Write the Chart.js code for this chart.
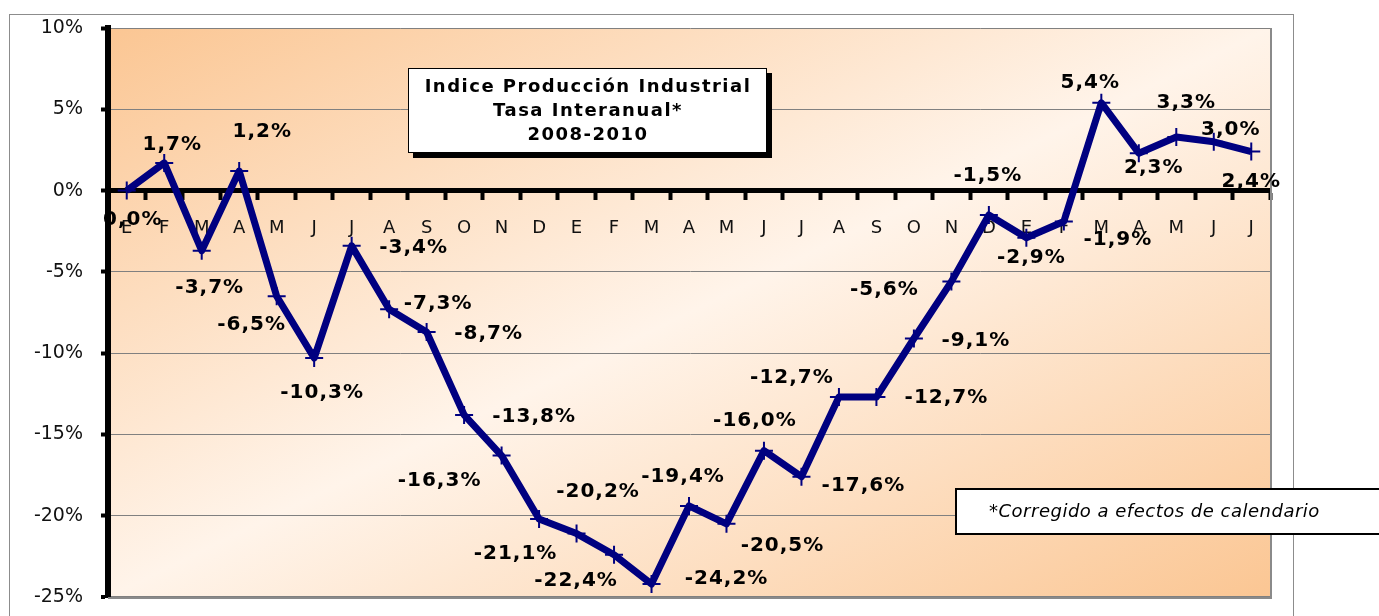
<!DOCTYPE html>
<html lang="es">
<head>
<meta charset="utf-8">
<title>Indice Producción Industrial - Tasa Interanual</title>
<script src="https://cdn.jsdelivr.net/npm/chart.js@4.4.1/dist/chart.umd.min.js"></script>
<style>
    html, body { margin: 0; padding: 0; background: #fff; }
    #contenedor { width: 1379px; height: 616px; }
</style>
</head>
<body>
<div id="contenedor"><canvas id="chart_ipi" width="1379" height="616"></canvas></div>
<script>
// Meses de enero 2008 a julio 2010
var meses = ['E', 'F', 'M', 'A', 'M', 'J', 'J', 'A', 'S', 'O', 'N', 'D',
             'E', 'F', 'M', 'A', 'M', 'J', 'J', 'A', 'S', 'O', 'N', 'D',
             'E', 'F', 'M', 'A', 'M', 'J', 'J'];

// Tasa interanual (%)
var tasas = [0.0, 1.7, -3.7, 1.2, -6.5, -10.3, -3.4, -7.3, -8.7, -13.8, -16.3, -20.2,
             -21.1, -22.4, -24.2, -19.4, -20.5, -16.0, -17.6, -12.7, -12.7, -9.1, -5.6, -1.5,
             -2.9, -1.9, 5.4, 2.3, 3.3, 3.0, 2.4];

// Eje vertical
var ejeMin = -25;
var ejeMax = 10;
var ejePaso = 5;

var titulo = ['Indice Producción Industrial', 'Tasa Interanual*', '2008-2010'];
var nota = '*Corregido a efectos de calendario';

// Desplazamiento de cada etiqueta respecto a su punto (px), colocadas a mano como en el original
var desplEtiquetas = [
    [6, 29], [8, -18], [8, 37], [23, -39], [-25, 29], [8, 35], [62, 2], [49, -5],
    [62, 2], [70, 2], [-62, 25], [59, -27], [-61, 20], [-38, 26], [75, -5], [-6, -29],
    [56, 22], [-9, -30], [62, 9], [-47, -19], [70, 1], [62, 2], [-67, 8], [-1, -39],
    [5, 20], [54, 18], [-11, -20], [15, 15], [10, -34], [17, -12], [0, 30]
];

function formato(v) {
    return v.toFixed(1).replace('.', ',') + '%';
}

// Fondo: marco exterior y degradado del area de trazado
var fondoPlugin = {
    id: 'fondo',
    beforeDraw: function (chart) {
        var ctx = chart.ctx;
        var a = chart.chartArea;
        ctx.save();
        ctx.fillStyle = '#fff';
        ctx.fillRect(0, 0, chart.width, chart.height);
        ctx.strokeStyle = '#8c8c8c';
        ctx.lineWidth = 1;
        ctx.strokeRect(9.5, 14.5, 1284, 700);

        var W = a.right - a.left;
        var H = a.bottom - a.top;
        var ux = 1 / W, uy = 1 / H, n = ux * ux + uy * uy;
        var g = ctx.createLinearGradient(a.left, a.top, a.left + 2 * ux / n, a.top + 2 * uy / n);
        g.addColorStop(0, '#fbc693');
        g.addColorStop(0.5, '#fff4ea');
        g.addColorStop(1, '#fbc693');
        ctx.fillStyle = g;
        ctx.fillRect(a.left, a.top, W, H);
        ctx.restore();
    },
    beforeDatasetsDraw: function (chart) {
        var ctx = chart.ctx;
        var a = chart.chartArea;
        ctx.save();
        ctx.strokeStyle = '#8a8a8a';
        ctx.lineWidth = 2;
        ctx.beginPath();
        ctx.moveTo(a.right + 1, a.top);
        ctx.lineTo(a.right + 1, a.bottom + 1);
        ctx.lineTo(a.left, a.bottom + 1);
        ctx.stroke();
        ctx.restore();
    }
};

// Cuadro de titulo, nota y etiquetas de datos
var textosPlugin = {
    id: 'textos',
    afterDatasetsDraw: function (chart) {
        var ctx = chart.ctx;
        ctx.save();

        // titulo con sombra
        ctx.fillStyle = '#000';
        ctx.fillRect(413, 73, 359, 85);
        ctx.fillStyle = '#fff';
        ctx.fillRect(408, 68, 359, 85);
        ctx.strokeStyle = '#000';
        ctx.lineWidth = 1;
        ctx.strokeRect(408.5, 68.5, 358, 84);
        ctx.fillStyle = '#000';
        ctx.font = 'bold 18px "DejaVu Sans"';
        ctx.letterSpacing = '1.5px';
        ctx.textAlign = 'center';
        ctx.textBaseline = 'middle';
        for (var k = 0; k < titulo.length; k++) {
            ctx.fillText(titulo[k], 588, 87 + k * 24);
        }

        // nota al pie
        ctx.fillStyle = '#fff';
        ctx.fillRect(955, 488, 440, 47);
        ctx.strokeStyle = '#000';
        ctx.lineWidth = 2;
        ctx.strokeRect(956, 489, 440, 45);
        ctx.fillStyle = '#000';
        ctx.font = 'italic 18px "DejaVu Sans"';
        ctx.letterSpacing = '0.5px';
        ctx.textAlign = 'left';
        ctx.fillText(nota, 989, 512);

        // etiquetas de datos
        var meta = chart.getDatasetMeta(0);
        ctx.font = 'bold 20px "DejaVu Sans"';
        ctx.letterSpacing = '1px';
        ctx.textAlign = 'center';
        meta.data.forEach(function (p, i) {
            var d = desplEtiquetas[i];
            ctx.fillText(formato(tasas[i]), p.x + d[0], p.y + d[1]);
        });
        ctx.restore();
    }
};

var config_ipi = {
    type: 'line',
    data: {
        labels: meses,
        datasets: [{
            label: 'Tasa interanual',
            data: tasas,
            borderColor: '#000080',
            borderWidth: 7,
            borderJoinStyle: 'round',
            tension: 0,
            fill: false,
            pointStyle: 'cross',
            pointRadius: 9,
            pointBorderWidth: 2,
            pointBorderColor: '#000080',
            pointBackgroundColor: '#000080'
        }]
    },
    options: {
        responsive: false,
        animation: false,
        layout: {
            padding: { top: 28, right: 109, bottom: 19, left: 0 }
        },
        plugins: {
            legend: { display: false },
            tooltip: { enabled: false }
        },
        scales: {
            x: {
                type: 'category',
                offset: true,
                position: { y: 0 },
                grid: {
                    offset: true,
                    drawOnChartArea: false,
                    drawTicks: true,
                    tickLength: 7,
                    tickWidth: 4,
                    tickColor: '#000'
                },
                border: { display: true, color: '#000', width: 5 },
                ticks: {
                    autoSkip: false,
                    maxRotation: 0,
                    padding: 20,
                    color: '#111',
                    font: { family: 'DejaVu Sans', size: 18 }
                },
                afterFit: function (scale) { scale.height = 0; }
            },
            y: {
                min: ejeMin,
                max: ejeMax,
                ticks: {
                    stepSize: ejePaso,
                    padding: 18,
                    color: '#111',
                    font: { family: 'DejaVu Sans', size: 19 },
                    callback: function (v) { return v + '%'; }
                },
                grid: {
                    color: '#808080',
                    lineWidth: function (c) { return c.tick && c.tick.value === ejeMin ? 2 : 1; },
                    tickColor: '#000',
                    tickLength: 7,
                    tickWidth: 4
                },
                border: { color: '#000', width: 6 },
                afterFit: function (scale) {
                    scale.width = 108;
                    scale.paddingTop = 0;
                    scale.paddingBottom = 0;
                }
            }
        }
    },
    plugins: [fondoPlugin, textosPlugin]
};

var canvas_ipi = document.getElementById('chart_ipi');
var chart_ipi = new Chart(canvas_ipi, config_ipi);
</script>
</body>
</html>
